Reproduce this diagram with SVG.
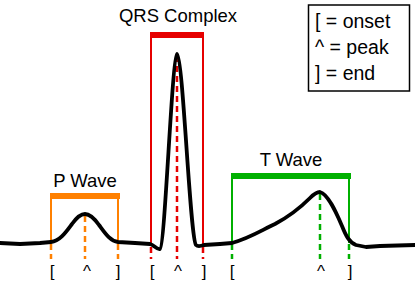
<svg xmlns="http://www.w3.org/2000/svg" width="415" height="283" viewBox="0 0 415 283">
<style>
text{font-family:"Liberation Sans",Arial,sans-serif;fill:#000}
.h{font-size:18.5px;text-anchor:middle}
.b{font-size:17px;text-anchor:middle}
.lg{font-size:19.5px}
.side{fill:none;stroke-width:2}
.dash{fill:none;stroke-width:2.5;stroke-dasharray:6 4}
.o{stroke:#ff8000}.or{fill:#ff8000}
.r{stroke:#e60000}.rr{fill:#e60000}
.g{stroke:#00b000}.gr{fill:#00b000}
</style>
<rect width="415" height="283" fill="#fff"/>
<g id="legend">
<rect x="308.5" y="5" width="101" height="86" fill="#fff" stroke="#000" stroke-width="1.5"/>
<text class="lg" x="315" y="28">[ = onset</text>
<text class="lg" x="315" y="54">^ = peak</text>
<text class="lg" x="315" y="80">] = end</text>
</g>
<g id="p-wave">
<text class="h" x="85" y="187">P Wave</text>
<rect class="or" x="50" y="193" width="70" height="6"/>
<path class="side o" d="M51,199V243M118,199V243"/>
<path class="dash o" d="M51,244V259M118,244V259M85,216V259"/>
<text class="b" x="52" y="277">[</text>
<text class="b" x="87" y="277">^</text>
<text class="b" x="118" y="277">]</text>
</g>
<g id="qrs-complex">
<text class="h" x="178" y="22">QRS Complex</text>
<rect class="rr" x="150" y="32" width="54" height="6"/>
<path class="side r" d="M151,38V246M203,38V246"/>
<path class="dash r" d="M151,247V259M203,247V259M177,56V259"/>
<text class="b" x="152" y="277">[</text>
<text class="b" x="178" y="277">^</text>
<text class="b" x="204" y="277">]</text>
</g>
<g id="t-wave">
<text class="h" x="291" y="166">T Wave</text>
<rect class="gr" x="231" y="173" width="120" height="6"/>
<path class="side g" d="M232,179V243M349,179V243"/>
<path class="dash g" d="M232,244V259M349,244V259M320,194V259"/>
<text class="b" x="232" y="277">[</text>
<text class="b" x="321" y="277">^</text>
<text class="b" x="350" y="277">]</text>
</g>
<g id="connectors">
<path fill="none" stroke="#000" stroke-width="3.8" stroke-linejoin="round" stroke-linecap="round" d="M0,243 L20,244 L40,243 L51,242 C60,241 66,232 72,224 C77,217 81,214 85,214 C90,214 94,218 99,225 C105,233 110,241 118,242 L135,243 L150,244 C154,245 157,250 160,249 C165,247 172,56 177,54 C183,56 190,238 196,245 C198,247 201,246 204,245 L220,244 L232,243 C250,238 262,230 275,224 C290,216 300,208 310,198 C314,194 317,192 320,192 C328,194 336,212 342,226 C346,236 349,242 356,245 L366,247 L380,246 L415,245"/>
</g>
</svg>
